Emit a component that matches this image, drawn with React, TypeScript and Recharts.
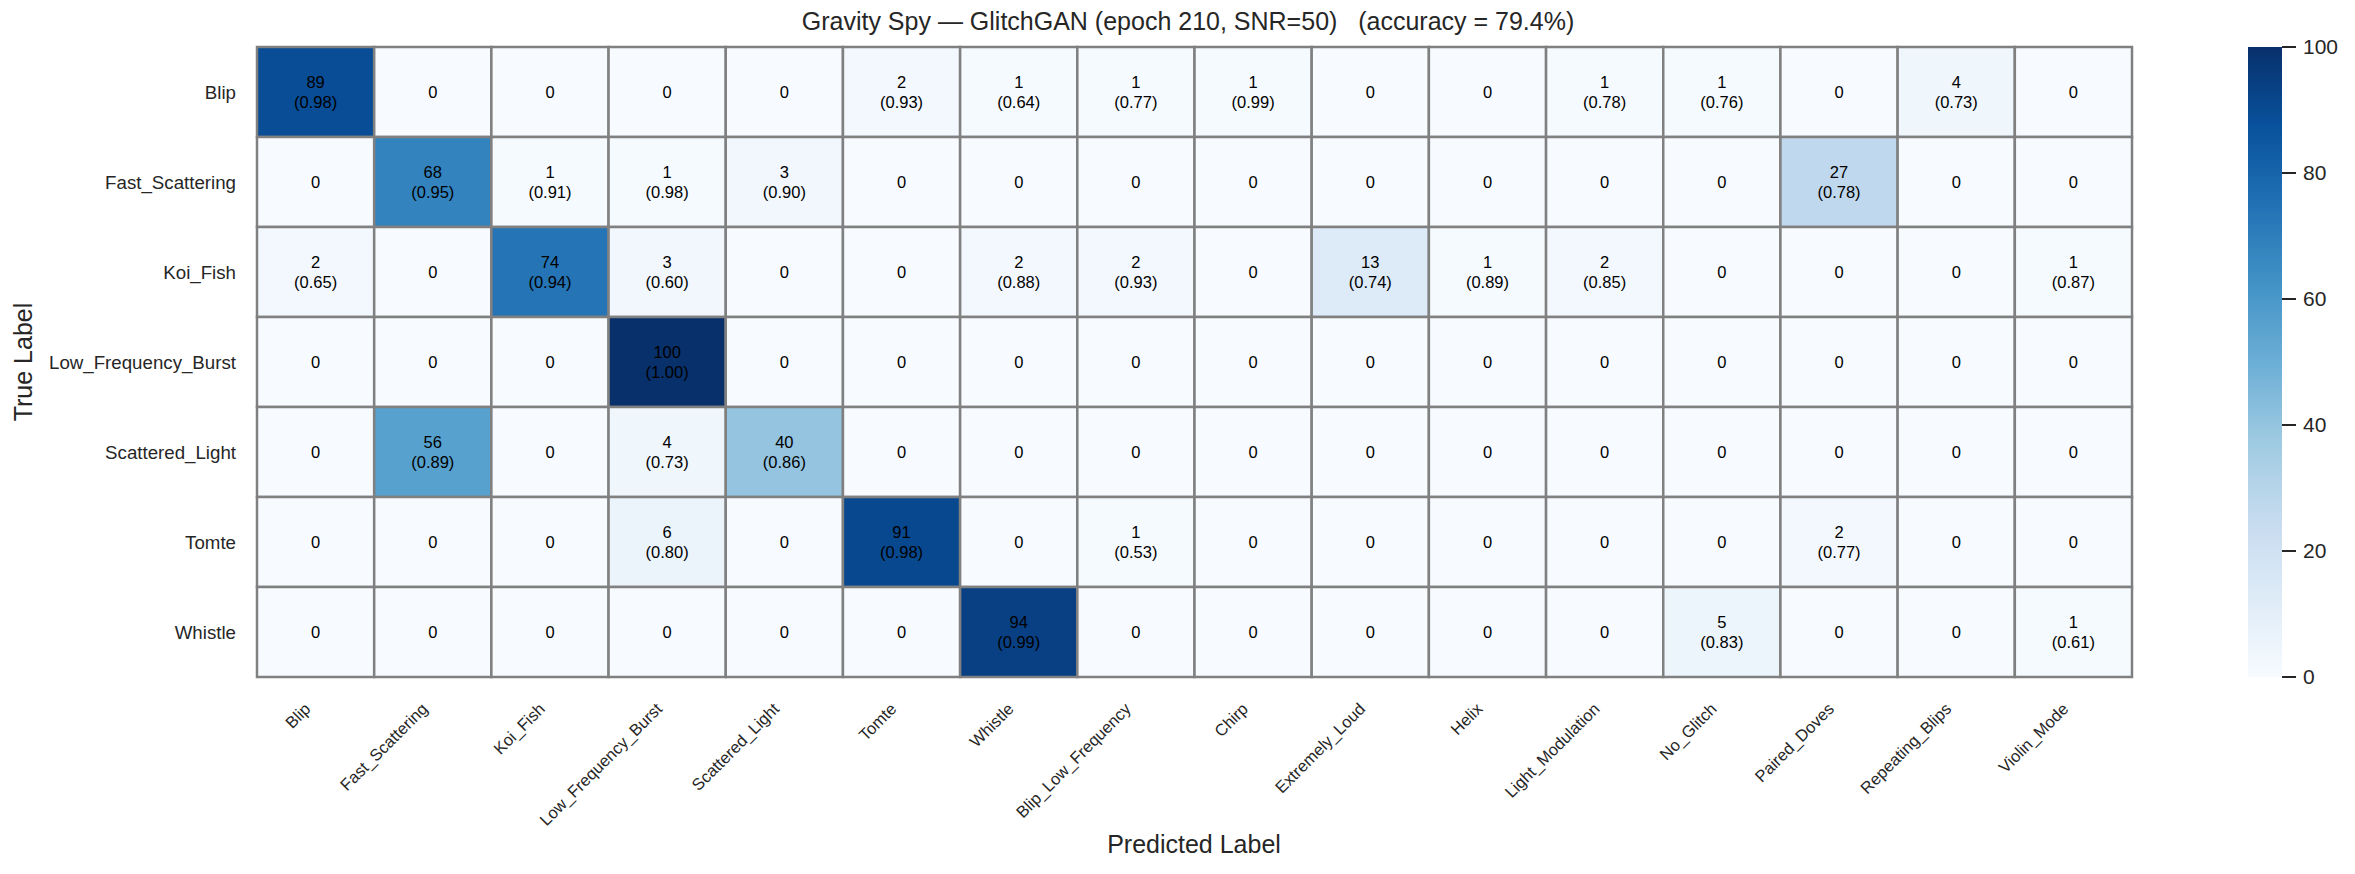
import React from 'react';
import {
  BarChart,
  Bar,
  Cell,
  XAxis,
  YAxis,
  LabelList
} from 'recharts';

const trueLabels = [
  'Blip',
  'Fast_Scattering',
  'Koi_Fish',
  'Low_Frequency_Burst',
  'Scattered_Light',
  'Tomte',
  'Whistle'
];

const predictedLabels = [
  'Blip',
  'Fast_Scattering',
  'Koi_Fish',
  'Low_Frequency_Burst',
  'Scattered_Light',
  'Tomte',
  'Whistle',
  'Blip_Low_Frequency',
  'Chirp',
  'Extremely_Loud',
  'Helix',
  'Light_Modulation',
  'No_Glitch',
  'Paired_Doves',
  'Repeating_Blips',
  'Violin_Mode'
];

// counts per true class (rows) and predicted class (columns)
const counts = [
  [89, 0, 0, 0, 0, 2, 1, 1, 1, 0, 0, 1, 1, 0, 4, 0],
  [0, 68, 1, 1, 3, 0, 0, 0, 0, 0, 0, 0, 0, 27, 0, 0],
  [2, 0, 74, 3, 0, 0, 2, 2, 0, 13, 1, 2, 0, 0, 0, 1],
  [0, 0, 0, 100, 0, 0, 0, 0, 0, 0, 0, 0, 0, 0, 0, 0],
  [0, 56, 0, 4, 40, 0, 0, 0, 0, 0, 0, 0, 0, 0, 0, 0],
  [0, 0, 0, 6, 0, 91, 0, 1, 0, 0, 0, 0, 0, 2, 0, 0],
  [0, 0, 0, 0, 0, 0, 94, 0, 0, 0, 0, 0, 5, 0, 0, 1]
];

// mean confidence of the predictions in each cell (null where empty)
const confidences = [
  [0.98, null, null, null, null, 0.93, 0.64, 0.77, 0.99, null, null, 0.78, 0.76, null, 0.73, null],
  [null, 0.95, 0.91, 0.98, 0.90, null, null, null, null, null, null, null, null, 0.78, null, null],
  [0.65, null, 0.94, 0.60, null, null, 0.88, 0.93, null, 0.74, 0.89, 0.85, null, null, null, 0.87],
  [null, null, null, 1.0, null, null, null, null, null, null, null, null, null, null, null, null],
  [null, 0.89, null, 0.73, 0.86, null, null, null, null, null, null, null, null, null, null, null],
  [null, null, null, 0.80, null, 0.98, null, 0.53, null, null, null, null, null, 0.77, null, null],
  [null, null, null, null, null, null, 0.99, null, null, null, null, null, 0.83, null, null, 0.61]
];

const colorbarTicks = [0, 20, 40, 60, 80, 100];

const FONT = '"Liberation Sans", Arial, sans-serif';
const INK = '#262626';
const GRID = '#808080';

// matplotlib "Blues"
const BLUES = ['#f7fbff', '#deebf7', '#c6dbef', '#9ecae1', '#6baed6', '#4292c6', '#2171b5', '#08519c', '#08306b'];

const hexToRgb = (h: string) => [1, 3, 5].map((i) => parseInt(h.slice(i, i + 2), 16));

const bluesColor = (v: number, max = 100) => {
  const t = Math.max(0, Math.min(1, v / max)) * (BLUES.length - 1);
  const i = Math.min(Math.floor(t), BLUES.length - 2);
  const f = t - i;
  const a = hexToRgb(BLUES[i]);
  const b = hexToRgb(BLUES[i + 1]);
  const c = a.map((av, k) => Math.round(av + (b[k] - av) * f));
  return `rgb(${c[0]},${c[1]},${c[2]})`;
};

// every cell is one unit wide; stacking 16 of them gives a row
const rows = trueLabels.map((label) => {
  const row: Record<string, any> = { label };
  predictedLabels.forEach((_, j) => {
    row[`c${j}`] = 1;
  });
  return row;
});

const columnTicks = predictedLabels.map((_, j) => j + 0.5);

const PredictedTick = ({ x, y, payload }: any) => {
  const name = predictedLabels[Math.floor(payload.value)];
  const px = x - 4;
  const py = y + 33;
  return (
    <text
      x={px}
      y={py}
      textAnchor="end"
      fill={INK}
      fontSize={16.5}
      fontFamily={FONT}
      transform={`rotate(-45, ${px}, ${py})`}
    >
      {name}
    </text>
  );
};

const cellLabel = (col: number) => (props: any) => {
  const { x, y, width, height, index } = props;
  const cx = x + width / 2;
  const cy = y + height / 2;
  const n = counts[index][col];
  const conf = confidences[index][col];
  if (conf == null) {
    return (
      <text x={cx} y={cy} textAnchor="middle" dominantBaseline="central" fontSize={16.5} fontFamily={FONT} fill="#000">
        {n}
      </text>
    );
  }
  return (
    <text textAnchor="middle" dominantBaseline="central" fontSize={16.5} fontFamily={FONT} fill="#000">
      <tspan x={cx} y={cy - 10}>{n}</tspan>
      <tspan x={cx} y={cy + 10}>({conf.toFixed(2)})</tspan>
    </text>
  );
};

const Colorbar = () => (
  <BarChart
    width={107}
    height={874}
    data={[{ name: 'scale', v: 100 }]}
    margin={{ top: 47, right: 0, bottom: 197, left: 0 }}
    barCategoryGap={0}
  >
    <defs>
      <linearGradient id="bluesGrad" x1="0" y1="0" x2="0" y2="1">
        {BLUES.slice().reverse().map((c, i) => (
          <stop key={i} offset={i / (BLUES.length - 1)} stopColor={c} />
        ))}
      </linearGradient>
    </defs>
    <XAxis dataKey="name" hide />
    <YAxis
      orientation="right"
      type="number"
      domain={[0, 100]}
      ticks={colorbarTicks}
      width={73}
      axisLine={false}
      tickSize={14}
      tickMargin={7}
      tickLine={{ stroke: INK, strokeWidth: 2 }}
      tick={{ fill: INK, fontSize: 21, fontFamily: FONT, textAnchor: 'start' }}
    />
    <Bar dataKey="v" fill="url(#bluesGrad)" isAnimationActive={false} />
  </BarChart>
);

export default function App() {
  return (
    <div style={{ position: 'absolute', left: 0, top: 0, width: 2355, height: 874, background: '#fff', fontFamily: FONT }}>
      <div
        style={{
          position: 'absolute',
          left: 0,
          width: 2376,
          top: 7,
          textAlign: 'center',
          fontSize: 25,
          color: INK,
          whiteSpace: 'pre'
        }}
      >
        Gravity Spy — GlitchGAN (epoch 210, SNR=50)   (accuracy = 79.4%)
      </div>
      <div
        style={{
          position: 'absolute',
          left: 0,
          width: 2388,
          top: 830,
          textAlign: 'center',
          fontSize: 25,
          color: INK
        }}
      >
        Predicted Label
      </div>
      <div
        style={{
          position: 'absolute',
          left: 23,
          top: 362,
          transform: 'translate(-50%, -50%) rotate(-90deg)',
          fontSize: 25,
          color: INK,
          whiteSpace: 'nowrap'
        }}
      >
        True Label
      </div>

      <div style={{ position: 'absolute', left: 0, top: 0 }}>
        <BarChart
          width={2355}
          height={874}
          data={rows}
          layout="vertical"
          margin={{ top: 47, right: 223, bottom: 47, left: 57 }}
          barCategoryGap={0}
          barGap={0}
        >
          <XAxis
            type="number"
            domain={[0, predictedLabels.length]}
            ticks={columnTicks}
            interval={0}
            height={150}
            axisLine={false}
            tickLine={false}
            tickSize={0}
            tickMargin={0}
            tick={<PredictedTick />}
          />
          <YAxis
            type="category"
            dataKey="label"
            width={200}
            axisLine={false}
            tickLine={false}
            tickSize={0}
            tickMargin={21}
            interval={0}
            tick={{ fill: INK, fontSize: 18.7, fontFamily: FONT }}
          />
          {predictedLabels.map((_, j) => (
            <Bar
              key={j}
              dataKey={`c${j}`}
              stackId="cm"
              stroke={GRID}
              strokeWidth={2.5}
              isAnimationActive={false}
            >
              {rows.map((_, i) => (
                <Cell key={i} fill={bluesColor(counts[i][j])} />
              ))}
              <LabelList content={cellLabel(j)} />
            </Bar>
          ))}
        </BarChart>
      </div>

      <div style={{ position: 'absolute', left: 2248, top: 0 }}>
        <Colorbar />
      </div>
    </div>
  );
}
